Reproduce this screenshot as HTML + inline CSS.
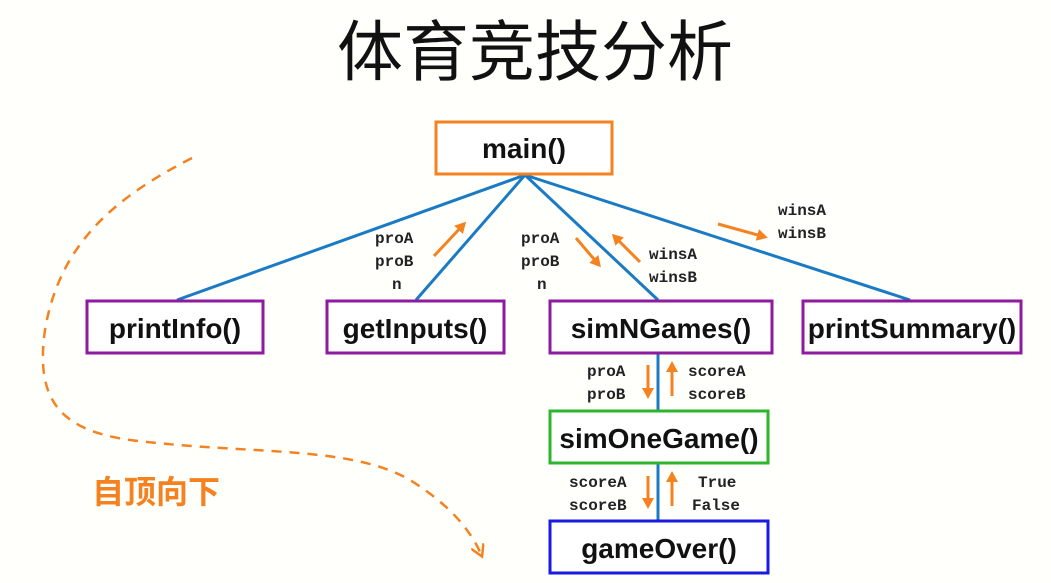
<!DOCTYPE html>
<html><head><meta charset="utf-8"><style>
body{margin:0;background:#fffffc;width:1051px;height:583px;overflow:hidden}
svg{display:block}
.b{font-family:"Liberation Sans","Noto Sans CJK SC",sans-serif;font-weight:bold;font-size:28px;fill:#111;text-anchor:middle}
.m{font-family:"Liberation Mono",monospace;font-weight:bold;font-size:16px;fill:#222}
</style></head><body>
<svg width="1051" height="583" viewBox="0 0 1051 583">
<defs><marker id="a" markerWidth="12" markerHeight="12" refX="8" refY="6" orient="auto" markerUnits="userSpaceOnUse"><path d="M0,0 L11,6 L0,12 z" fill="#f58220"/></marker>
<marker id="d" markerWidth="14" markerHeight="14" refX="7" refY="7" orient="auto" markerUnits="userSpaceOnUse"><path d="M0,0 L12,7 L0,14" fill="none" stroke="#f58220" stroke-width="2.5"/></marker></defs>
<text x="535" y="75" font-family="'Noto Sans CJK SC',sans-serif" font-size="66" text-anchor="middle" fill="#111">体育竞技分析</text>
<g stroke="#1a7bc4" stroke-width="3" fill="none">
<line x1="525" y1="175" x2="177" y2="300"/><line x1="525" y1="175" x2="416" y2="300"/>
<line x1="525" y1="175" x2="658" y2="300"/><line x1="525" y1="175" x2="910" y2="300"/>
<line x1="658" y1="353" x2="658" y2="410"/><line x1="658" y1="463" x2="658" y2="520"/>
</g>
<path d="M192,158 C120,195 60,240 45,330 C35,400 60,430 130,440 C250,455 350,445 410,480 C450,505 470,530 480,552" fill="none" stroke="#f58220" stroke-width="2.5" stroke-dasharray="10,8" marker-end="url(#d)"/>
<g stroke-width="3" fill="#fff">
<rect x="436" y="122" width="176" height="52" stroke="#f58220"/>
<rect x="87" y="301" width="176" height="52" stroke="#8e1aa0"/>
<rect x="327" y="301" width="177" height="52" stroke="#8e1aa0"/>
<rect x="550" y="301" width="222" height="52" stroke="#8e1aa0"/>
<rect x="803" y="301" width="218" height="52" stroke="#8e1aa0"/>
<rect x="550" y="411" width="218" height="52" stroke="#2db52d"/>
<rect x="550" y="521" width="218" height="52" stroke="#1a1ae0"/>
</g>
<text class="b" x="524" y="158">main()</text>
<text class="b" x="175" y="338">printInfo()</text>
<text class="b" x="415" y="338">getInputs()</text>
<text class="b" x="661" y="338">simNGames()</text>
<text class="b" x="912" y="338">printSummary()</text>
<text class="b" x="659" y="448">simOneGame()</text>
<text class="b" x="659" y="558">gameOver()</text>
<g stroke="#f58220" stroke-width="3" marker-end="url(#a)">
<line x1="434" y1="256" x2="464" y2="224"/>
<line x1="576" y1="238" x2="599" y2="265"/>
<line x1="640" y1="262" x2="614" y2="236"/>
<line x1="718" y1="224" x2="765" y2="237"/>
<line x1="648" y1="365" x2="648" y2="396"/>
<line x1="672" y1="396" x2="672" y2="364"/>
<line x1="648" y1="476" x2="648" y2="506"/>
<line x1="672" y1="506" x2="672" y2="474"/>
</g>
<g class="m">
<text x="375" y="243">proA</text><text x="375" y="266">proB</text><text x="392" y="289">n</text>
<text x="521" y="243">proA</text><text x="521" y="266">proB</text><text x="537" y="289">n</text>
<text x="649" y="259">winsA</text><text x="649" y="282">winsB</text>
<text x="778" y="215">winsA</text><text x="778" y="238">winsB</text>
<text x="587" y="376">proA</text><text x="587" y="399">proB</text>
<text x="688" y="376">scoreA</text><text x="688" y="399">scoreB</text>
<text x="569" y="487">scoreA</text><text x="569" y="510">scoreB</text>
<text x="698" y="487">True</text><text x="692" y="510">False</text>
</g>
<text x="92" y="503" font-family="'Noto Sans CJK SC',sans-serif" font-weight="bold" font-size="32" fill="#f58220">自顶向下</text>
</svg>
</body></html>
